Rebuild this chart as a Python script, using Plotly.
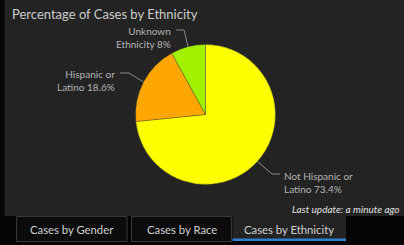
import math
import plotly.graph_objects as go

# ---- data ----
categories = ["Not Hispanic or Latino", "Hispanic or Latino", "Unknown Ethnicity"]
label_lines = [["Not Hispanic or", "Latino"], ["Hispanic or", "Latino"], ["Unknown", "Ethnicity"]]
values = [73.4, 18.6, 8.0]
colors = ["#ffff00", "#ffa600", "#a2f100"]
tabs = ["Cases by Gender", "Cases by Race", "Cases by Ethnicity"]
title = "Percentage of Cases by Ethnicity"
update_text = "Last update: a minute ago"

W, H = 404, 245
FONT = "Lato"

def px(x):
    return x / W

def py(y):
    return 1 - y / H

# pie geometry (pixels)
CX, CY, R = 205.5, 114.5, 70

fig = go.Figure()
fig.add_trace(go.Pie(
    labels=categories, values=values, sort=False, direction="clockwise", rotation=0,
    marker=dict(colors=colors, line=dict(color="#4a4a2a", width=0.4)),
    textinfo="none", hoverinfo="label+percent", showlegend=False,
    domain=dict(x=[px(CX - R), px(CX + R)], y=[py(CY + R), py(CY - R)]),
))

shapes = []
annotations = []

# background panel
shapes.append(dict(type="rect", xref="paper", yref="paper", x0=px(4.5), x1=px(405), y0=py(216), y1=py(-1),
                   fillcolor="#232323", line=dict(width=0), layer="below"))

# label text / leader line layout (pixels): elbow point, text anchor, align
label_layout = [
    dict(elbow=(272, 174), end=(280, 174), tx=282, ty=182, anchor="left"),
    dict(elbow=(129, 73), end=(120, 73), tx=117, ty=81, anchor="right"),
    dict(elbow=(184, 30), end=(176, 30), tx=173, ty=37, anchor="right"),
]

total = sum(values)
start = 0.0
for cat, lines, v, lay in zip(categories, label_lines, values, label_layout):
    frac = v / total
    mid = (start + frac / 2) * 2 * math.pi
    start += frac
    rx = CX + R * math.sin(mid)
    ry = CY - R * math.cos(mid)
    ex, ey = lay["elbow"]
    fx, fy = lay["end"]
    for (x0, y0, x1, y1) in [(rx, ry, ex, ey), (ex, ey, fx, fy)]:
        shapes.append(dict(type="line", xref="paper", yref="paper", x0=px(x0), y0=py(y0), x1=px(x1), y1=py(y1),
                           line=dict(color="#8a8a8a", width=1)))
    pct = f"{v:g}%"
    txt = lines[0] + "<br>" + lines[1] + " " + pct
    annotations.append(dict(xref="paper", yref="paper", x=px(lay["tx"]), y=py(lay["ty"]), text=txt,
                            showarrow=False, xanchor=lay["anchor"], yanchor="middle", align=lay["anchor"],
                            font=dict(family=FONT, size=10, color="#b4b4b4")))

# title
annotations.append(dict(xref="paper", yref="paper", x=px(10), y=py(14), text=title, showarrow=False,
                        xanchor="left", yanchor="middle", font=dict(family=FONT, size=13, color="#cccccc")))
# last update
annotations.append(dict(xref="paper", yref="paper", x=px(400.5), y=py(209), text="<i>" + update_text + "</i>",
                        showarrow=False, xanchor="right", yanchor="middle",
                        font=dict(family=FONT, size=10, color="#e0e0e0")))

# tabs
tab_boxes = [(16.5, 127), (131.5, 231.5), (232.5, 346)]
for i, (t, (x0, x1)) in enumerate(zip(tabs, tab_boxes)):
    active = i == len(tabs) - 1
    if active:
        shapes.append(dict(type="rect", xref="paper", yref="paper", x0=px(x0), x1=px(x1), y0=py(241), y1=py(215),
                           fillcolor="#232323", line=dict(width=0)))
        shapes.append(dict(type="rect", xref="paper", yref="paper", x0=px(x0), x1=px(x1), y0=py(241), y1=py(238.5),
                           fillcolor="#2f7fd0", line=dict(width=0)))
    else:
        shapes.append(dict(type="rect", xref="paper", yref="paper", x0=px(x0), x1=px(x1), y0=py(241.5), y1=py(216.5),
                           fillcolor="#0c0c0c", line=dict(color="#383838", width=1)))
    annotations.append(dict(xref="paper", yref="paper", x=px((x0 + x1) / 2), y=py(229), text=t, showarrow=False,
                            xanchor="center", yanchor="middle", font=dict(family=FONT, size=11.3, color="#d0d0d0")))

fig.update_layout(
    width=W, height=H, margin=dict(l=0, r=0, t=0, b=0),
    paper_bgcolor="#050505", plot_bgcolor="#050505",
    shapes=shapes, annotations=annotations, showlegend=False,
)

fig.write_html("out.html", config={"displayModeBar": False},
               post_script="document.body.style.margin='0';document.body.style.overflow='hidden';")
